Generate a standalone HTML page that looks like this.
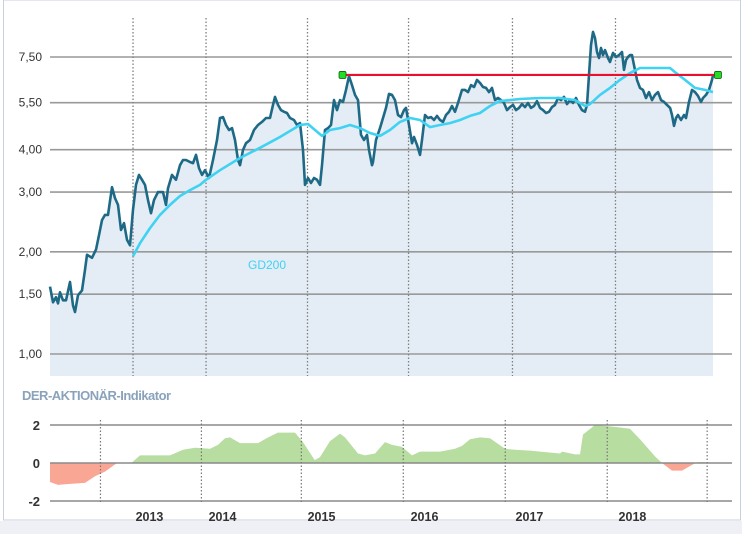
<!DOCTYPE html>
<html><head><meta charset="utf-8">
<style>
body{margin:0;background:#fff;}
svg{display:block;font-family:"Liberation Sans",sans-serif;}
</style></head>
<body>
<svg id="chart" width="742" height="534" viewBox="0 0 742 534">
<rect x="0" y="0" width="742" height="534" fill="#fff"/>
<rect x="0" y="521" width="742" height="13" fill="#eef0f6"/>
<rect x="3.5" y="0" width="737" height="520" fill="none" stroke="#c9d0de" stroke-width="1"/>
<g id="main"></g>
<text x="22" y="400" font-size="13" font-weight="bold" fill="#8ba2bb" letter-spacing="-0.5">DER-AKTIONÄR-Indikator</text>
<g id="ind"></g>
</svg>
<script>
const priceDates=[2012.500,2012.529,2012.558,2012.578,2012.597,2012.626,2012.655,2012.694,2012.723,2012.743,2012.772,2012.811,2012.840,2012.859,2012.908,2012.947,2012.976,2013.005,2013.034,2013.063,2013.102,2013.131,2013.160,2013.189,2013.218,2013.248,2013.277,2013.306,2013.335,2013.364,2013.393,2013.422,2013.451,2013.481,2013.510,2013.549,2013.597,2013.626,2013.646,2013.684,2013.723,2013.762,2013.791,2013.820,2013.859,2013.888,2013.917,2013.947,2013.976,2014.005,2014.044,2014.083,2014.121,2014.150,2014.180,2014.209,2014.238,2014.267,2014.296,2014.325,2014.345,2014.374,2014.403,2014.442,2014.481,2014.519,2014.558,2014.597,2014.636,2014.665,2014.684,2014.714,2014.743,2014.772,2014.801,2014.830,2014.869,2014.898,2014.927,2014.956,2014.976,2015.005,2015.034,2015.063,2015.092,2015.121,2015.141,2015.170,2015.199,2015.228,2015.257,2015.286,2015.316,2015.345,2015.374,2015.403,2015.432,2015.461,2015.490,2015.519,2015.549,2015.578,2015.597,2015.626,
2015.636,2015.665,2015.704,2015.733,2015.762,2015.791,2015.820,2015.850,2015.879,2015.908,2015.937,2015.956,2015.985,2016.015,2016.034,2016.063,2016.092,2016.112,2016.141,2016.170,2016.199,2016.228,2016.257,2016.286,2016.316,2016.345,2016.374,2016.403,2016.432,2016.461,2016.500,2016.529,2016.558,2016.587,2016.617,2016.646,2016.675,2016.704,2016.733,2016.762,2016.791,2016.820,2016.850,2016.879,2016.908,2016.937,2016.966,2016.995,2017.024,2017.053,2017.083,2017.112,2017.141,2017.170,2017.199,2017.228,2017.257,2017.286,2017.316,2017.345,2017.374,2017.403,2017.432,2017.461,2017.490,2017.519,2017.549,2017.578,2017.607,2017.636,2017.665,2017.694,2017.714,2017.733,2017.752,2017.772,2017.791,2017.811,2017.830,2017.850,2017.869,2017.888,2017.917,2017.937,2017.966,2017.995,2018.024,2018.053,2018.073,2018.092,2018.112,2018.131,2018.150,2018.170,2018.199,2018.228,2018.257,2018.286,2018.316,2018.345,2018.374,2018.403,2018.432,2018.461,2018.490,2018.520,2018.539,2018.558,2018.578,2018.597,2018.626,2018.655,2018.675,2018.704,2018.733,2018.762,2018.791,2018.820,2018.840,2018.869,2018.898,2018.927,2018.937];
const priceValues=[1.58,1.42,1.47,1.41,1.52,1.44,1.44,1.63,1.39,1.33,1.49,1.54,1.77,1.96,1.92,2.03,2.24,2.48,2.57,2.57,3.10,2.88,2.75,2.32,2.43,2.17,2.09,2.66,3.15,3.37,3.26,3.15,2.84,2.60,2.84,3.00,3.00,2.75,3.08,3.37,3.26,3.60,3.73,3.73,3.68,3.65,3.86,3.53,3.37,3.48,3.30,3.73,4.27,4.96,4.99,4.73,4.57,4.63,4.27,3.73,3.60,3.99,4.18,4.27,4.57,4.73,4.83,4.96,4.96,5.42,5.72,5.42,5.23,5.17,5.13,4.96,4.89,4.73,4.79,3.99,3.15,3.30,3.19,3.30,3.26,3.15,3.60,4.57,4.63,4.73,5.60,5.23,5.60,5.53,6.00,6.59,6.20,5.80,5.60,4.42,4.27,4.42,3.99,3.60,
3.68,4.27,4.63,4.96,5.31,5.84,5.80,5.60,5.06,4.99,5.23,5.31,4.73,4.18,4.36,4.13,3.86,4.27,5.06,4.96,4.99,4.89,5.03,4.89,4.83,5.06,5.17,5.38,5.17,5.49,6.00,6.00,5.91,6.20,6.12,6.42,6.29,6.12,6.08,5.91,6.08,5.60,5.68,5.60,5.49,5.23,5.34,5.42,5.23,5.31,5.45,5.34,5.49,5.31,5.38,5.56,5.31,5.23,5.13,5.17,5.34,5.42,5.68,5.60,5.72,5.45,5.60,5.49,5.68,5.42,5.23,5.17,5.42,6.64,8.14,8.89,8.53,7.76,7.45,7.97,7.60,7.86,7.45,7.25,7.71,7.50,7.60,7.76,6.87,7.35,7.50,7.60,7.60,7.10,6.42,6.08,6.00,5.68,5.91,5.60,5.80,5.91,5.60,5.53,5.42,5.31,5.06,4.70,4.96,5.06,4.89,5.06,4.96,5.53,6.00,5.91,5.76,5.53,5.68,5.80,6.00,6.42,6.64];
const gdDates=[2013.306,2013.374,2013.471,2013.568,2013.665,2013.762,2013.859,2013.956,2014.015,2014.150,2014.345,2014.539,2014.733,2014.927,2015.005,2015.073,2015.141,2015.218,2015.316,2015.413,2015.510,2015.607,2015.704,2015.801,2015.898,2015.995,2016.092,2016.189,2016.286,2016.383,2016.481,2016.578,2016.675,2016.772,2016.869,2016.966,2017.063,2017.257,2017.451,2017.597,2017.694,2017.743,2017.840,2017.937,2018.034,2018.131,2018.228,2018.325,2018.519,2018.568,2018.665,2018.762,2018.859,2018.937];
const gdValues=[1.94,2.12,2.35,2.57,2.75,2.92,3.04,3.15,3.26,3.48,3.78,4.05,4.36,4.73,4.76,4.57,4.39,4.57,4.63,4.73,4.63,4.48,4.39,4.57,4.83,4.96,4.89,4.66,4.73,4.79,4.89,5.03,5.13,5.38,5.56,5.60,5.64,5.68,5.68,5.60,5.38,5.45,5.80,6.08,6.42,6.73,6.96,6.96,6.96,6.77,6.42,6.08,6.00,5.91];
const resistanceLevel=6.64;
const resistanceStart=2015.34;
const resistanceEnd=2018.985;
const yTicks=[7.5,5.5,4,3,2,1.5,1];
const yTickLabels=["7,50","5,50","4,00","3,00","2,00","1,50","1,00"];
const topGridDates=[2013.306,2014.015,2015.0,2015.981,2016.99,2017.99];
const indDates=[2012.500,2012.578,2012.694,2012.840,2012.937,2013.034,2013.150,2013.160,2013.277,2013.300,2013.374,2013.665,2013.791,2013.908,2014.053,2014.131,2014.199,2014.248,2014.345,2014.519,2014.617,2014.714,2014.879,2014.956,2015.070,2015.120,2015.218,2015.316,2015.364,2015.490,2015.558,2015.655,2015.752,2015.820,2015.917,2016.015,2016.092,2016.286,2016.432,2016.500,2016.578,2016.675,2016.772,2016.917,2017.015,2017.160,2017.257,2017.451,2017.471,2017.597,2017.646,2017.675,2017.791,2017.985,2018.131,2018.228,2018.374,2018.442,2018.539,2018.636,2018.733,2018.791,2018.859];
const indValues=[-1.0,-1.15,-1.1,-1.05,-0.7,-0.45,0,0,0,0.05,0.4,0.4,0.7,0.8,0.75,0.95,1.3,1.35,1.05,1.05,1.35,1.6,1.6,1.1,0.15,0.3,1.15,1.55,1.35,0.5,0.4,0.5,1.1,0.95,0.85,0.4,0.6,0.6,0.75,0.9,1.25,1.35,1.3,0.75,0.7,0.65,0.6,0.5,0.6,0.45,0.45,1.5,2.0,1.9,1.8,1.25,0.35,0,-0.4,-0.4,-0.1,0.05,0.05];
const indTicks=[2,0,-2];
const indTickLabels=["2","0","-2"];
const botGridDates=[2012.99,2013.97,2014.94,2015.93,2016.92,2017.91,2018.88];
const yearLabels=["2013","2014","2015","2016","2017","2018"];
const yearLabelDates=[2013.466,2014.175,2015.136,2016.136,2017.155,2018.155];

const NS="http://www.w3.org/2000/svg";
const X0=50,T0=2012.5,PXY=103;
function xs(t){return X0+(t-T0)*PXY;}
function ys(v){return 354-147.4*Math.log(v);}
function yi(v){return 463-19*v;}
function mk(parent,tag,attrs){const e=document.createElementNS(NS,tag);for(const k in attrs)e.setAttribute(k,attrs[k]);parent.appendChild(e);return e;}
const main=document.getElementById('main');
const ind=document.getElementById('ind');

let d="M"+xs(priceDates[0])+",376";
priceDates.forEach((t,i)=>{d+=" L"+xs(t).toFixed(1)+","+ys(priceValues[i]).toFixed(1);});
d+=" L"+xs(priceDates[priceDates.length-1]).toFixed(1)+",376 Z";
const fill=mk(main,'path',{d:d,fill:'#e4edf5'});



yTicks.forEach((v,i)=>{
  const g=mk(main,'line',{x1:50,x2:732,y1:ys(v),y2:ys(v),stroke:'#999','stroke-width':1.6});
  
  
  const t=mk(main,'text',{x:42,y:ys(v)+4,'text-anchor':'end','font-size':12,fill:'#333'});
  t.textContent=yTickLabels[i];
  
  
});
topGridDates.forEach(t=>{
  const g=mk(main,'line',{x1:xs(t),x2:xs(t),y1:18,y2:376,stroke:'#808080','stroke-width':1.3,'stroke-dasharray':'1.5,2'});
  
  
});

let pd="";
priceDates.forEach((t,i)=>{pd+=(i?" L":"M")+xs(t).toFixed(1)+","+ys(priceValues[i]).toFixed(1);});
const pl=mk(main,'path',{d:pd,fill:'none',stroke:'#1e6a86','stroke-width':2.6,'stroke-linejoin':'round'});



let gd="";
gdDates.forEach((t,i)=>{gd+=(i?" L":"M")+xs(t).toFixed(1)+","+ys(gdValues[i]).toFixed(1);});
const gl=mk(main,'path',{d:gd,fill:'none',stroke:'#3fd2f2','stroke-width':2.6,'stroke-linejoin':'round'});


const gt=mk(main,'text',{x:248,y:269,'font-size':12,fill:'#3fd2f2'});
gt.textContent="GD200";



const rl=mk(main,'line',{x1:xs(resistanceStart),x2:xs(resistanceEnd),y1:ys(resistanceLevel),y2:ys(resistanceLevel),stroke:'#e8102e','stroke-width':2.2});


[resistanceStart,resistanceEnd].forEach(t=>{
  const r=mk(main,'rect',{x:xs(t)-3.5,y:ys(resistanceLevel)-3.5,width:7,height:7,rx:1.5,fill:'#22dd22',stroke:'#106010','stroke-width':0.8});
  
  
});

const defs=mk(ind,'defs',{});
const cp=mk(defs,'clipPath',{id:'pos'});mk(cp,'rect',{x:0,y:0,width:742,height:463});
const cn=mk(defs,'clipPath',{id:'neg'});mk(cn,'rect',{x:0,y:463,width:742,height:80});
let id="M"+xs(indDates[0])+","+yi(0);
indDates.forEach((t,i)=>{id+=" L"+xs(t).toFixed(1)+","+yi(indValues[i]).toFixed(1);});
id+=" L"+xs(indDates[indDates.length-1]).toFixed(1)+","+yi(0)+" Z";
const ip=mk(ind,'path',{d:id,fill:'#b7dda0','clip-path':'url(#pos)'});


const inn=mk(ind,'path',{d:id,fill:'#f9a695','clip-path':'url(#neg)'});


indTicks.forEach((v,i)=>{
  const g=mk(ind,'line',{x1:50,x2:732,y1:yi(v),y2:yi(v),stroke:'#8a8a8a','stroke-width':1.5});
  
  
  const t=mk(ind,'text',{x:40,y:yi(v)+5,'text-anchor':'end','font-size':13,'font-weight':'bold',fill:'#333'});
  t.textContent=indTickLabels[i];
  
  
});
botGridDates.forEach(t=>{
  const g=mk(ind,'line',{x1:xs(t),x2:xs(t),y1:420,y2:504,stroke:'#777','stroke-width':1.2,'stroke-dasharray':'1.5,2'});
  
  
});
yearLabels.forEach((s,i)=>{
  const t=mk(ind,'text',{x:xs(yearLabelDates[i]),y:521,'text-anchor':'middle','font-size':12.5,'font-weight':'bold',fill:'#333'});
  t.textContent=s;
  
  
});
</script>
</body></html>
